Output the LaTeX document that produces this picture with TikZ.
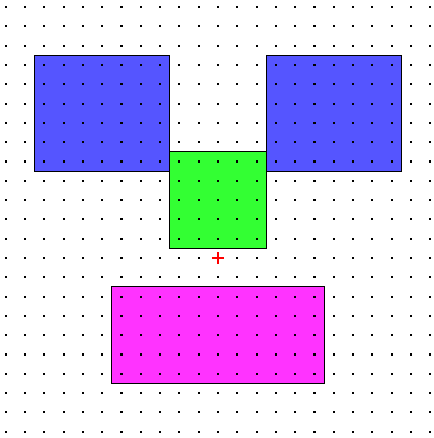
\documentclass[tikz,border=0pt]{standalone}
\definecolor{myblue}{RGB}{85,85,255}
\definecolor{mygreen}{RGB}{51,255,51}
\definecolor{mymagenta}{RGB}{255,51,255}
\tikzset{
  block/.style={draw=black, line width=0.75pt},
  griddot/.style={fill=black},
  crossmark/.style={draw=red, line width=1pt}
}
\begin{document}
\begin{tikzpicture}[x=0.5cm,y=0.5cm]
\useasboundingbox[fill=white] (-11.295,-9.326) rectangle (11.14,13.368);
\fill[block, fill=myblue] (-9.5,4.5) rectangle (-2.5,10.5);
\fill[block, fill=myblue] (2.5,4.5) rectangle (9.5,10.5);
\fill[block, fill=mygreen] (-2.5,0.5) rectangle (2.5,5.5);
\fill[block, fill=mymagenta] (-5.5,-6.5) rectangle (5.5,-1.5);
\draw[block] (-9.5,4.5) rectangle (-2.5,10.5);
\draw[block] (2.5,4.5) rectangle (9.5,10.5);
\draw[block] (-2.5,0.5) rectangle (2.5,5.5);
\draw[block] (-5.5,-6.5) rectangle (5.5,-1.5);
\foreach \i in {-11,...,11}{
  \foreach \j in {-9,...,13}{
    \fill[griddot] (\i-0.055,\j-0.055) rectangle ++(0.11,0.11);
  }
}
\draw[crossmark] (-0.32,0) -- (0.32,0) (0,-0.32) -- (0,0.32);
\end{tikzpicture}
\end{document}
